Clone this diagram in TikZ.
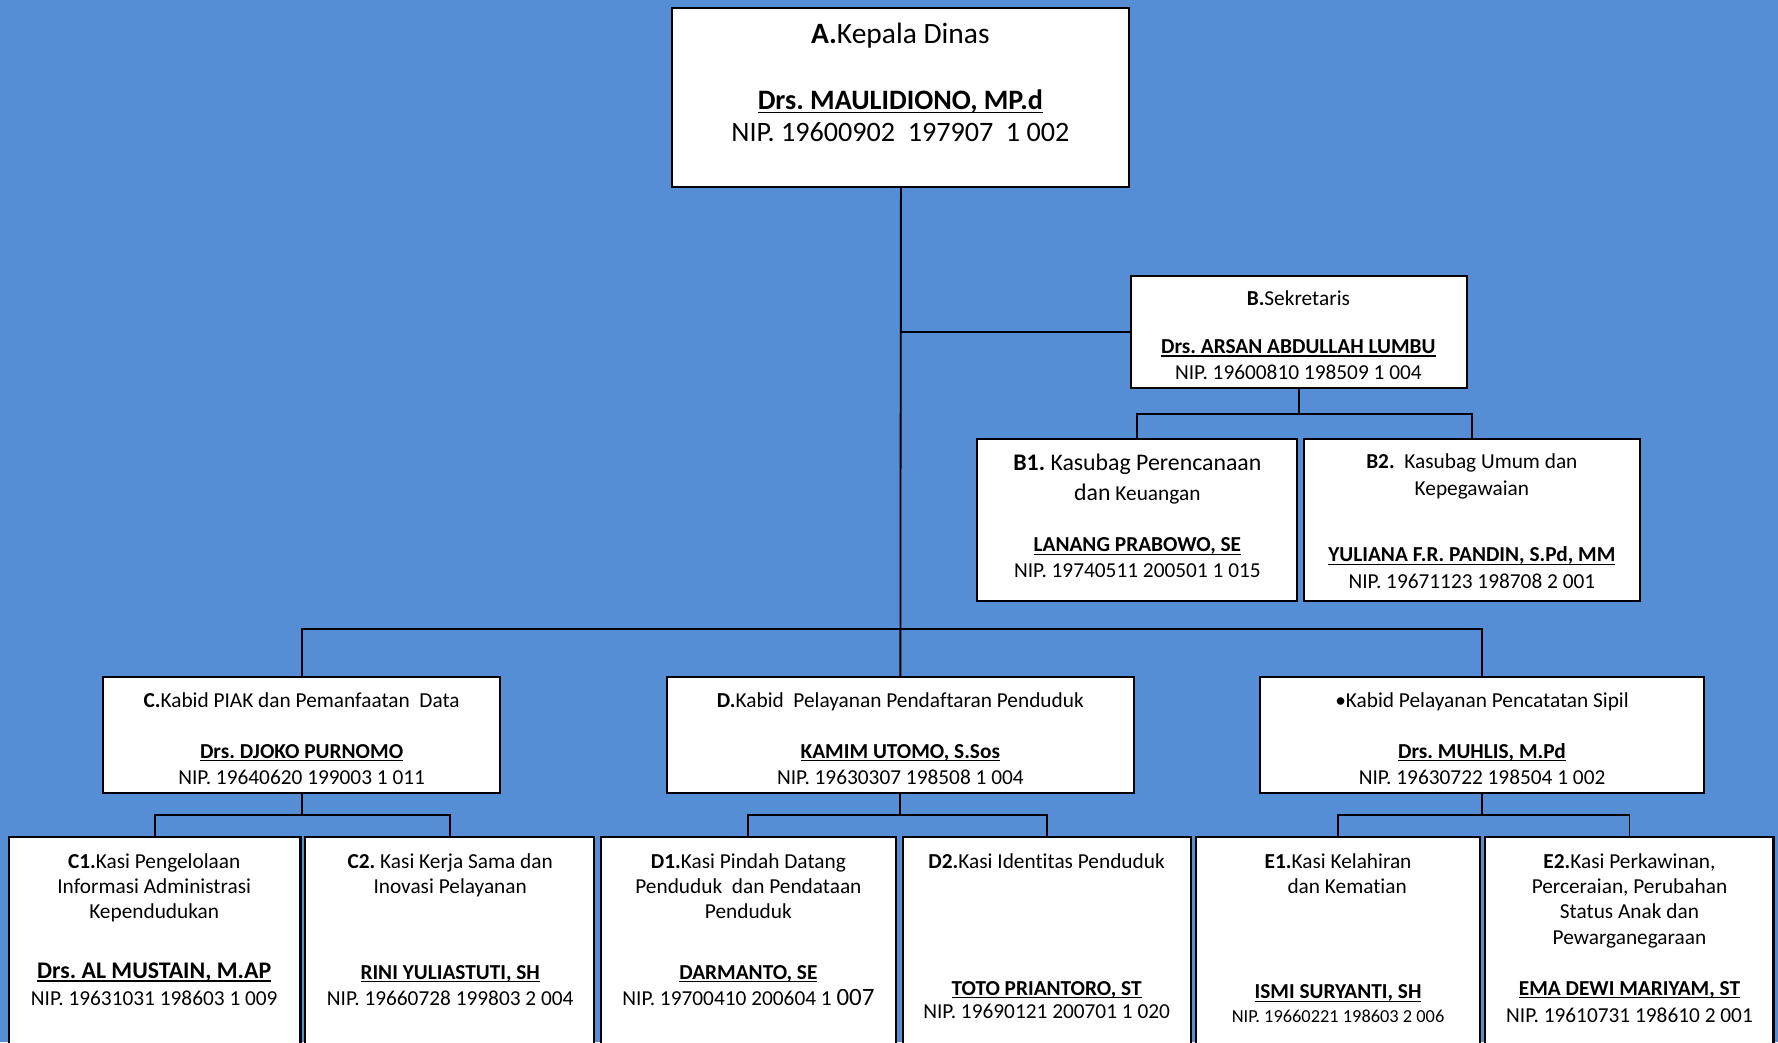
\documentclass[tikz,border=0pt]{standalone}
\usepackage{fontspec}
\setmainfont{Carlito}[Ligatures=NoCommon]
\usetikzlibrary{fit}
\definecolor{bg}{RGB}{85,142,213}
\newcommand\nm[1]{\textbf{\setbox0\hbox{#1}\rlap{\rule[-0.15em]{\wd0}{0.055em}}\box0}}
\frenchspacing
\begin{document}
\begin{tikzpicture}[x=0.5pt,y=-0.5pt,
  box/.style={draw=black, fill=white, line width=0.9pt, inner sep=0pt},
  ln/.style={draw=black, line width=0.8pt},
  t/.style={inner sep=0pt, text height=8.4pt, text depth=1.8pt, font=\fontsize{9.4}{11}\selectfont},
  tb/.style={t, font=\fontsize{10.5}{12}\selectfont},
  ts/.style={t, font=\fontsize{8.1}{10}\selectfont},
  tA/.style={inner sep=0pt, text height=10.6pt, text depth=2.4pt, font=\fontsize{12.4}{14}\selectfont},
]
\useasboundingbox (0,0) rectangle (1568,919);
\fill[bg] (0,0) rectangle (1568,919);

% boxes
\node[box, fit={(593,7) (996,165)}] (A) {};
\node[box, fit={(997,243) (1294,342)}] (B) {};
\node[box, fit={(862,387) (1144,530)}] (B1) {};
\node[box, fit={(1150,387) (1446,530)}] (B2) {};
\node[box, fit={(91,597) (441,699)}] (C) {};
\node[box, fit={(588,597) (1000,699)}] (D) {};
\node[box, fit={(1111,597) (1503,699)}] (E) {};
\node[box, fit={(8,738) (265,935)}] (C1) {};
\node[box, fit={(269,738) (524,935)}] (C2) {};
\node[box, fit={(530,738) (790,935)}] (D1) {};
\node[box, fit={(796,738) (1050,935)}] (D2) {};
\node[box, fit={(1055,738) (1305,935)}] (E1) {};
\node[box, fit={(1310,738) (1564,935)}] (E2) {};

% bus coordinates
\coordinate (busB) at (1145,365);
\coordinate (busM) at (794,555);
\coordinate (busC) at (266,719);
\coordinate (busD) at (794,719);
\coordinate (busE) at (1307,719);

% connectors
\draw[ln] (A.south) -- (D.north);
\draw[ln] (A.south) |- (B.west);
\draw[ln] (B.south) -- (B.south |- busB);
\draw[ln] (B1.north) |- (busB) -| (B2.north);
\draw[ln] (C.north) |- (busM) -| (E.north);
\draw[ln] (C.south) -- (C.south |- busC);
\draw[ln] (C1.north) |- (busC) -| (C2.north);
\draw[ln] (D.south) -- (D.south |- busD);
\draw[ln] (D1.north) |- (busD) -| (D2.north);
\draw[ln] (E.south) -- (E.south |- busE);
\draw[ln] (E1.north) |- (busE) -| (E2.north);

% A
\node[tA, font=\fontsize{13}{15}\selectfont] (Aa) at (794,30) {\textbf{A.}Kepala Dinas};
\node[tA] (An) at (794,88) {\nm{Drs. MAULIDIONO, MP.d}};
\node[tA] (Ap) at (794,117) {NIP. 19600902\hspace{0.45em}197907\hspace{0.45em}1 002};
% B
\node[t] (Ba) at (1145,263) {\textbf{B.}Sekretaris};
\node[t] (Bn) at (1145,305) {\nm{Drs. ARSAN ABDULLAH LUMBU}};
\node[t] (Bp) at (1145,328) {NIP. 19600810 198509 1 004};
% B1
\node[tb] (B1a) at (1003,408) {\textbf{B1.} Kasubag Perencanaan};
\node[t] (B1b) at (1003,435) {{\fontsize{10.5}{12}\selectfont dan} Keuangan};
\node[t] (B1n) at (1003,480) {\nm{LANANG PRABOWO, SE}};
\node[t] (B1p) at (1003,503) {NIP. 19740511 200501 1 015};
% B2
\node[t] (B2a) at (1298,407) {\textbf{B2.}\ \ Kasubag Umum dan};
\node[t] (B2b) at (1298,430) {Kepegawaian};
\node[t] (B2n) at (1298,489) {\nm{YULIANA F.R. PANDIN, S.Pd, MM}};
\node[t] (B2p) at (1298,512) {NIP. 19671123 198708 2 001};
% C
\node[t] (Ca) at (266,617) {\textbf{C.}Kabid PIAK dan Pemanfaatan\ \ Data};
\node[t] (Cn) at (266,662) {\nm{Drs. DJOKO PURNOMO}};
\node[t] (Cp) at (266,685) {NIP. 19640620 199003 1 011};
% D
\node[t] (Da) at (794,617) {\textbf{D.}Kabid\ \ Pelayanan Pendaftaran Penduduk};
\node[t] (Dn) at (794,662) {\nm{KAMIM UTOMO, S.Sos}};
\node[t] (Dp) at (794,685) {NIP. 19630307 198508 1 004};
% E
\node[t] (Ea) at (1307,617) {•Kabid Pelayanan Pencatatan Sipil};
\node[t] (En) at (1307,662) {\nm{Drs. MUHLIS, M.Pd}};
\node[t] (Ep) at (1307,685) {NIP. 19630722 198504 1 002};
% C1
\node[t] (C1a) at (136,759) {\textbf{C1.}Kasi Pengelolaan};
\node[t] (C1b) at (136,781) {Informasi Administrasi};
\node[t] (C1c) at (136,803) {Kependudukan};
\node[tb] (C1n) at (136,856) {\nm{Drs. AL MUSTAIN, M.AP}};
\node[t] (C1p) at (136,880) {NIP. 19631031 198603 1 009};
% C2
\node[t] (C2a) at (397,759) {\textbf{C2.} Kasi Kerja Sama dan};
\node[t] (C2b) at (397,781) {Inovasi Pelayanan};
\node[t] (C2n) at (397,857) {\nm{RINI YULIASTUTI, SH}};
\node[t] (C2p) at (397,880) {NIP. 19660728 199803 2 004};
% D1
\node[t] (D1a) at (660,759) {\textbf{D1.}Kasi Pindah Datang};
\node[t] (D1b) at (660,781) {Penduduk\ \ dan Pendataan};
\node[t] (D1c) at (660,803) {Penduduk};
\node[t] (D1n) at (660,857) {\nm{DARMANTO, SE}};
\node[t] (D1p) at (660,880) {NIP. 19700410 200604 1 {\fontsize{11}{13}\selectfont 007}};
% D2
\node[t] (D2a) at (923,759) {\textbf{D2.}Kasi Identitas Penduduk};
\node[t] (D2n) at (923,871) {\nm{TOTO PRIANTORO, ST}};
\node[t] (D2p) at (923,892) {NIP. 19690121 200701 1 020};
% E1
\node[t] (E1a) at (1180,759) {\textbf{E1.}Kasi Kelahiran};
\node[t] (E1b) at (1188,781) {dan Kematian};
\node[t] (E1n) at (1180,874) {\nm{ISMI SURYANTI, SH}};
\node[ts] (E1p) at (1180,895) {NIP. 19660221 198603 2 006};
% E2
\node[t] (E2a) at (1437,759) {\textbf{E2.}Kasi Perkawinan,};
\node[t] (E2b) at (1437,781) {Perceraian, Perubahan};
\node[t] (E2c) at (1437,803) {Status Anak dan};
\node[t] (E2d) at (1437,826) {Pewarganegaraan};
\node[t] (E2n) at (1437,871) {\nm{EMA DEWI MARIYAM, ST}};
\node[t] (E2p) at (1437,895) {NIP. 19610731 198610 2 001};
\end{tikzpicture}
\end{document}
